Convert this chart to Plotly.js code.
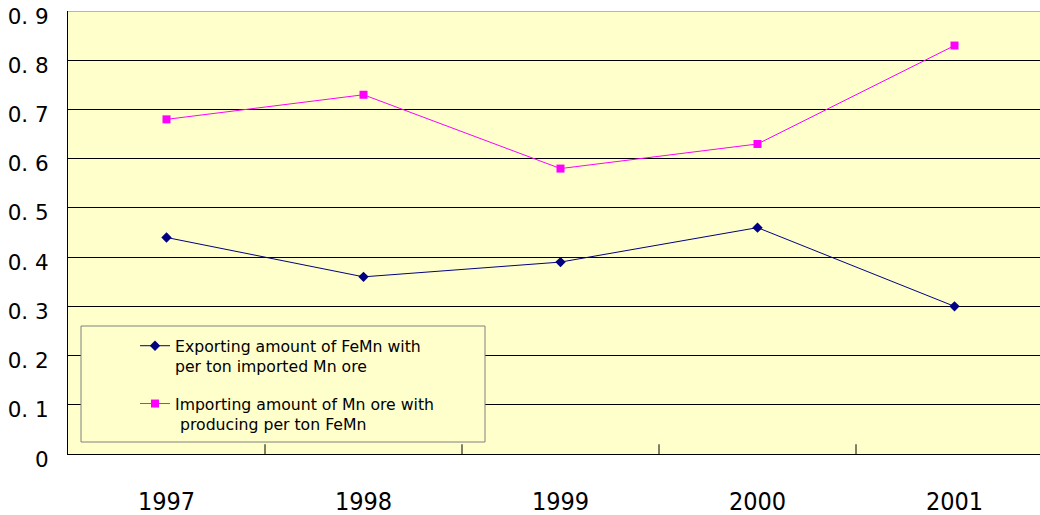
<!DOCTYPE html>
<html><head><meta charset="utf-8">
<script src="https://cdn.plot.ly/plotly-3.0.1.min.js"></script>
<style>body{margin:0;background:#fff}#c{width:1040px;height:515px}</style>
</head><body><div id="c"></div>
<script>
const years = ['1997','1998','1999','2000','2001'];
const exporting = [0.44, 0.36, 0.39, 0.46, 0.30];
const importing = [0.68, 0.73, 0.58, 0.63, 0.83];
const yTickVals = [0,0.1,0.2,0.3,0.4,0.5,0.6,0.7,0.8,0.9];
const yTickText = ['0','0. 1','0. 2','0. 3','0. 4','0. 5','0. 6','0. 7','0. 8','0. 9'];
const names = ['Exporting amount of FeMn with<br>per ton imported Mn ore',
               'Importing amount of Mn ore with<br> producing per ton FeMn'];

const traces = [
  {x: years, y: exporting, name: names[0], legendgroup:'a', type:'scatter', mode:'lines+markers',
   line:{color:'#000080', width:1}, marker:{symbol:'diamond', size:8, color:'#000080'}},
  {x: years, y: importing, name: names[1], legendgroup:'b', type:'scatter', mode:'lines+markers',
   line:{color:'#FF00FF', width:1}, marker:{symbol:'square', size:8, color:'#FF00FF'}}
];
const PW = 972, PH = 443;
const layout = {
  width:1040, height:515,
  margin:{l:68, r:0, t:11, b:61},
  paper_bgcolor:'#ffffff', plot_bgcolor:'#FFFFCC',
  showlegend:true,
  legend:{x:(135-68)/PW, y:(454-329)/PH, xanchor:'left', yanchor:'top', bgcolor:'rgba(0,0,0,0)',
          borderwidth:0, font:{family:'DejaVu Sans', size:15.7, color:'#000'}, itemwidth:30,
          valign:'top', tracegroupgap:14},
  xaxis:{type:'category', range:[-0.5, 4.434], showgrid:false, zeroline:false,
         showline:true, linecolor:'#000', linewidth:1,
         ticks:'', ticklabelstandoff:25,
         tickfont:{family:'DejaVu Sans Condensed, DejaVu Sans', size:25, color:'#000'}},
  yaxis:{range:[0,0.9002], tickvals:yTickVals, ticktext:yTickText, showgrid:true,
         gridcolor:'#000', gridwidth:1, zeroline:false, showline:true, linecolor:'#000',
         linewidth:1, ticks:'', ticklabelstandoff:14, ticklabelshift:5,
         tickfont:{family:'DejaVu Sans', size:21.5, color:'#000'}},
  shapes: [0.5,1.5,2.5,3.5].map(v => ({type:'line', xref:'x', yref:'paper', x0:v, x1:v, y0:0, y1:0.022, line:{color:'#000', width:1}}))
    .concat([{type:'line', xref:'paper', yref:'y', x0:0, x1:1, y0:0.9, y1:0.9, line:{color:'#888', width:1}},
             {type:'rect', xref:'paper', yref:'paper', layer:'above',
              x0:(81-68)/PW, x1:(485-68)/PW, y0:(454-442)/PH, y1:(454-326)/PH,
              fillcolor:'#FFFFCC', line:{color:'#808080', width:1}}])
};
Plotly.newPlot('c', traces, layout, {displayModeBar:false});
</script></body></html>
